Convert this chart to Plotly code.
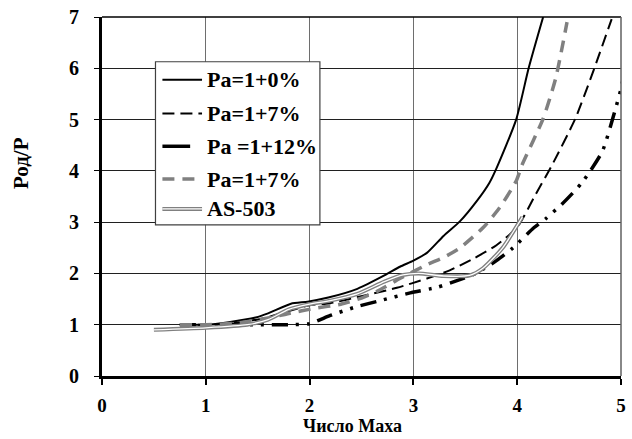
import plotly.graph_objects as go

# --- data ---
m1 = [0.75, 1.0, 1.22, 1.48, 1.6, 1.82, 1.98, 2.18, 2.46, 2.72, 2.87, 3.0, 3.13, 3.29, 3.45, 3.61, 3.73, 3.8, 3.99, 4.11, 4.25]
r1 = [1.0, 1.0, 1.05, 1.14, 1.22, 1.41, 1.45, 1.53, 1.7, 1.96, 2.13, 2.25, 2.4, 2.73, 3.02, 3.41, 3.76, 4.05, 5.0, 6.0, 7.0]

m2 = [0.75, 1.0, 1.3, 1.55, 1.77, 2.0, 2.2, 2.53, 2.84, 3.13, 3.35, 3.58, 3.8, 4.0, 4.18, 4.34, 4.56, 4.72, 4.91]
r2 = [1.0, 1.0, 1.04, 1.12, 1.25, 1.38, 1.42, 1.57, 1.72, 1.9, 2.06, 2.29, 2.55, 2.9, 3.55, 4.13, 5.02, 5.87, 6.96]

m3 = [0.75, 1.0, 1.5, 1.8, 2.0, 2.2, 2.45, 2.68, 2.97, 3.23, 3.42, 3.6, 3.8, 3.96, 4.16, 4.27, 4.43, 4.62, 4.82, 4.94, 5.0, 5.03]
r3 = [1.0, 1.0, 1.0, 1.0, 1.02, 1.18, 1.35, 1.47, 1.62, 1.73, 1.86, 2.0, 2.25, 2.5, 2.89, 3.06, 3.35, 3.76, 4.38, 5.16, 5.6, 5.9]

m4 = [0.75, 1.0, 1.3, 1.6, 1.8, 2.05, 2.3, 2.5, 2.65, 2.87, 3.13, 3.29, 3.45, 3.67, 3.83, 3.99, 4.05, 4.25, 4.37, 4.48]
r4 = [1.0, 1.0, 1.03, 1.13, 1.22, 1.32, 1.4, 1.52, 1.65, 1.9, 2.17, 2.31, 2.5, 2.89, 3.28, 3.8, 4.13, 5.02, 5.8, 6.9]

m5 = [0.5, 1.0, 1.4, 1.6, 1.8, 2.0, 2.2, 2.46, 2.72, 2.9, 3.05, 3.29, 3.54, 3.67, 3.86, 4.05]
r5 = [0.9, 0.94, 1.0, 1.1, 1.3, 1.4, 1.47, 1.6, 1.84, 1.97, 2.0, 1.95, 1.96, 2.1, 2.5, 3.1]

legend_names = ["Pa=1+0%", "Pa=1+7%", "Pa =1+12%", "Pa=1+7%", "AS-503"]
x_ticks = [0, 1, 2, 3, 4, 5]
y_ticks = [0, 1, 2, 3, 4, 5, 6, 7]

FONT = "Liberation Serif"
GREY = "#808080"

styles = [
    dict(color="black", width=2, dash="solid"),
    dict(color="black", width=2, dash="12px,6px"),
    dict(color="black", width=3.5, dash="16px,8px,3px,8px,3px,8px"),
    dict(color=GREY, width=3.5, dash="12px,8px"),
]

fig = go.Figure()
for xs, ys, st in zip([m1, m2, m3, m4], [r1, r2, r3, r4], styles):
    fig.add_trace(go.Scatter(x=xs, y=ys, mode="lines", line=dict(shape="spline", smoothing=0.6, **st),
                             showlegend=False))
# AS-503 double line
fig.add_trace(go.Scatter(x=m5, y=r5, mode="lines", line=dict(color=GREY, width=4, shape="spline", smoothing=0.6),
                         showlegend=False))
fig.add_trace(go.Scatter(x=m5, y=r5, mode="lines", line=dict(color="white", width=1.3, shape="spline", smoothing=0.6),
                         showlegend=False))

# custom legend (paper coords)
W, H = 632, 439
L, R, T, B = 102, 6, 15, 63
pw, ph = W - L - R, H - T - B

def px(xp):
    return (xp - L) / pw

def py(yp):
    return 1 - (yp - T) / ph

shapes = [dict(type="rect", xref="paper", yref="paper", x0=px(156), x1=px(322), y0=py(224), y1=py(60),
               fillcolor="white", line=dict(color="#404040", width=1.2), layer="above")]
leg_y = [78, 112, 145, 178, 208]
leg_styles = styles + [dict(color=GREY, width=4, dash="solid")]
annotations = []
for i, (name, st) in enumerate(zip(legend_names, leg_styles)):
    yy = py(leg_y[i])
    x0l, x1l = (163, 191) if i == 2 else (163, 203)
    shapes.append(dict(type="line", xref="paper", yref="paper", x0=px(x0l), x1=px(x1l), y0=yy, y1=yy,
                       line=dict(color=st["color"], width=st["width"],
                                 dash="solid" if i == 2 else st["dash"]), layer="above"))
    if i == 4:
        shapes.append(dict(type="line", xref="paper", yref="paper", x0=px(163), x1=px(203), y0=yy, y1=yy,
                           line=dict(color="white", width=1.3), layer="above"))
    annotations.append(dict(text="<b>%s</b>" % name, xref="paper", yref="paper", x=px(206), y=yy,
                            xanchor="left", yanchor="middle", showarrow=False,
                            font=dict(family=FONT, size=22, color="black")))

# axis titles
annotations.append(dict(text="<b>Род/Р</b>", xref="paper", yref="paper", x=px(20), y=py(162),
                        xanchor="center", yanchor="middle", textangle=-90, showarrow=False,
                        font=dict(family=FONT, size=21, color="black")))
annotations.append(dict(text="<b>Число Маха</b>", xref="paper", yref="paper", x=px(355), y=py(438),
                        xanchor="center", yanchor="bottom", showarrow=False,
                        font=dict(family=FONT, size=18, color="black")))

fig.update_layout(
    width=W, height=H,
    margin=dict(l=L, r=R, t=T, b=B),
    plot_bgcolor="white", paper_bgcolor="white",
    shapes=shapes, annotations=annotations,
    xaxis=dict(range=[0, 5], tickvals=x_ticks, ticktext=["<b>%d</b>" % v for v in x_ticks],
               showgrid=True, gridcolor="#6e6e6e", gridwidth=1.2, zeroline=False,
               showline=True, linecolor="black", linewidth=3, mirror=False,
               ticks="outside", ticklen=6, tickcolor="black", tickwidth=1.5, ticklabelstandoff=4,
               tickfont=dict(family=FONT, size=19, color="black")),
    yaxis=dict(range=[0, 7], tickvals=y_ticks, ticktext=["<b>%d</b>" % v for v in y_ticks],
               showgrid=True, gridcolor="#202020", gridwidth=1.2, zeroline=False,
               showline=True, linecolor="black", linewidth=3, mirror=False,
               ticks="outside", ticklen=5, tickcolor="black", tickwidth=1.2, ticklabelstandoff=11,
               tickfont=dict(family=FONT, size=20, color="black")),
)
# top and right border
fig.add_shape(type="line", xref="paper", yref="paper", x0=0, x1=1, y0=1, y1=1, line=dict(color="black", width=1.5))
fig.add_shape(type="line", xref="paper", yref="paper", x0=1, x1=1, y0=0, y1=1, line=dict(color="#606060", width=1.5))

fig.write_html("out.html")
